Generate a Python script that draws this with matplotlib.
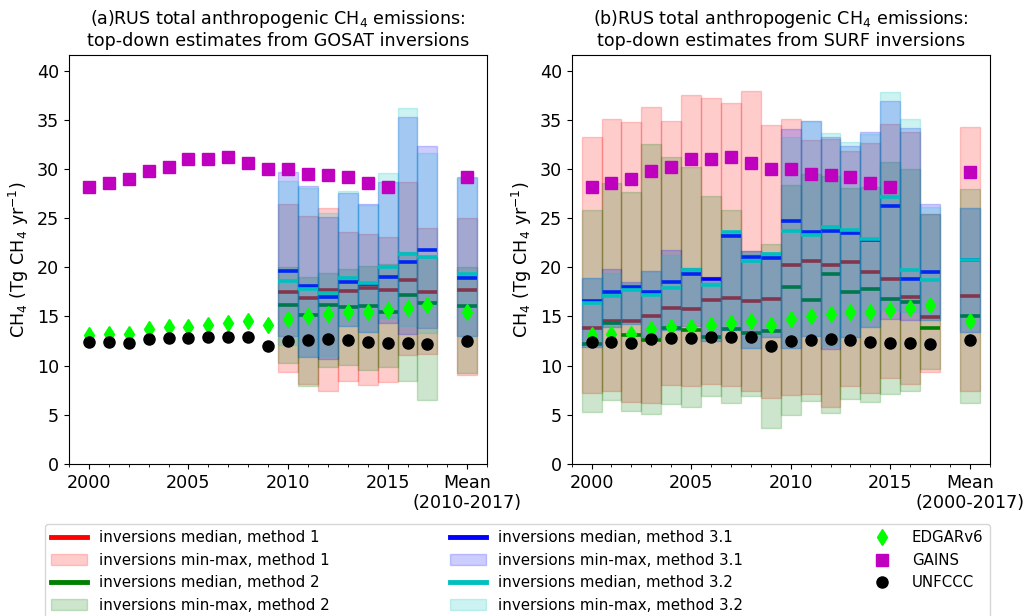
import numpy as np
import matplotlib
matplotlib.use('Agg')
from matplotlib import pyplot as plt
from matplotlib.lines import Line2D
from matplotlib.patches import Patch
from matplotlib.ticker import MultipleLocator

# anios de cada panel
anios_surf = list(range(2000, 2018))
anios_gosat = list(range(2010, 2018))
anios_gains = list(range(2000, 2016))
pos_media = 2019

# inventarios (2000-2017), ultimo valor = media de cada panel
edgar = [13.1, 13.2, 13.2, 13.7, 13.9, 13.9, 14.1, 14.3, 14.5, 14.1,
         14.7, 15.0, 15.2, 15.4, 15.4, 15.6, 15.8, 16.2]
gains = [28.2, 28.6, 29.0, 29.8, 30.2, 31.0, 31.0, 31.2, 30.6, 30.0,
         30.0, 29.5, 29.4, 29.2, 28.6, 28.2]
unfccc = [12.4, 12.4, 12.3, 12.7, 12.8, 12.8, 12.9, 12.9, 12.9, 12.0,
          12.5, 12.6, 12.7, 12.6, 12.4, 12.3, 12.3, 12.2]
edgar_media_gosat, edgar_media_surf = 15.4, 14.5
gains_media_gosat, gains_media_surf = 29.15, 29.65
unfccc_media_gosat, unfccc_media_surf = 12.45, 12.6

# GOSAT 2010-2017 + media (2010-2017)
g_m1_max = [26.4, 25.2, 26.0, 23.6, 23.4, 23.1, 28.7, 24.0, 25.0]
g_m1_min = [9.3, 8.1, 7.4, 8.4, 8.0, 8.3, 11.1, 11.2, 9.0]
g_m1_med = [17.5, 16.9, 17.7, 17.6, 17.9, 17.7, 18.7, 17.5, 17.7]
g_m2_max = [20.0, 19.0, 19.4, 19.8, 20.1, 20.3, 21.5, 21.0, 20.0]
g_m2_min = [10.3, 7.95, 9.9, 10.1, 9.5, 9.9, 8.4, 6.5, 9.2]
g_m2_med = [16.2, 15.1, 16.2, 16.0, 16.1, 15.4, 17.2, 16.4, 16.1]
g_m31_max = [29.7, 28.3, 25.1, 27.5, 26.4, 28.7, 35.3, 32.3, 29.2]
g_m31_min = [13.0, 10.9, 10.7, 14.0, 13.4, 14.3, 13.2, 13.8, 13.0]
g_m31_med = [19.6, 18.1, 17.0, 18.5, 18.3, 19.0, 20.5, 21.7, 18.9]
g_m32_max = [28.8, 28.1, 25.5, 27.7, 26.3, 29.6, 36.2, 31.6, 29.1]
g_m32_min = [12.1, 11.0, 11.0, 14.0, 13.4, 14.8, 14.0, 13.3, 13.0]
g_m32_med = [18.6, 17.8, 17.4, 18.9, 18.4, 20.0, 21.3, 21.0, 19.3]

# SURF 2000-2017 + media (2000-2017)
s_m1_max = [33.2, 35.1, 34.8, 36.3, 34.9, 37.5, 37.2, 36.7, 37.9, 34.5,
            35.1, 32.9, 33.0, 31.8, 32.6, 34.6, 33.7, 25.4, 34.3]
s_m1_min = [7.2, 7.4, 6.3, 6.2, 8.0, 7.9, 8.1, 7.9, 7.4, 6.7,
            7.0, 7.1, 5.8, 7.9, 7.2, 8.7, 8.1, 9.3, 7.4]
s_m1_med = [13.8, 14.5, 14.5, 15.0, 15.9, 15.7, 16.7, 16.9, 16.6, 16.8,
            20.2, 20.6, 20.2, 20.5, 19.5, 18.8, 17.0, 14.9, 17.1]
s_m2_max = [25.8, 28.6, 27.6, 32.5, 31.2, 30.2, 27.2, 25.8, 21.6, 22.4,
            28.4, 29.5, 29.3, 28.1, 28.2, 30.7, 30.0, 25.4, 28.0]
s_m2_min = [5.3, 6.5, 5.4, 5.1, 6.1, 5.8, 6.9, 6.2, 6.9, 3.6,
            5.0, 6.4, 5.2, 6.6, 6.3, 7.1, 7.4, 9.6, 6.2]
s_m2_med = [12.2, 14.3, 13.1, 12.6, 13.8, 13.6, 12.9, 13.7, 13.3, 13.5,
            18.0, 16.7, 19.3, 17.5, 17.8, 16.8, 16.5, 13.8, 15.0]
s_m31_max = [18.9, 19.8, 18.5, 19.6, 21.7, 19.9, 19.0, 23.4, 21.6, 21.4,
             34.1, 34.9, 33.2, 32.3, 33.7, 36.9, 34.2, 26.4, 26.0]
s_m31_min = [11.9, 13.9, 14.2, 12.9, 13.6, 14.0, 12.5, 13.6, 11.8, 12.9,
             11.8, 13.0, 11.7, 12.9, 13.9, 14.7, 14.6, 14.6, 13.4]
s_m31_med = [16.6, 17.5, 18.0, 17.5, 18.5, 19.3, 18.8, 23.2, 21.0, 20.9,
             24.7, 23.6, 23.7, 23.5, 22.8, 26.2, 18.8, 19.5, 20.7]
s_m32_max = [18.9, 19.4, 18.4, 19.6, 21.2, 19.9, 18.5, 23.7, 21.3, 21.4,
             33.2, 34.9, 33.6, 32.7, 33.5, 37.8, 35.1, 26.1, 26.0]
s_m32_min = [11.9, 13.9, 14.2, 12.9, 13.6, 14.3, 12.5, 13.6, 11.8, 12.9,
             11.8, 13.0, 12.0, 12.9, 13.9, 15.6, 15.4, 14.6, 13.4]
s_m32_med = [16.4, 17.1, 17.7, 17.2, 17.9, 19.7, 18.2, 23.6, 20.6, 21.3,
             23.7, 23.3, 24.1, 23.8, 22.9, 27.1, 19.7, 18.7, 20.7]

colores = ['r', 'g', 'b', 'c']
metodos = ['1', '2', '3.1', '3.2']
fs = 12.6
ms_d, ms_s, ms_o = 8.3, 8, 8


def dibujarMetodo(ax, x, vmin, vmax, med, color):
  # mediana primero, luego la banda min-max encima
  x = np.array(x, dtype=float)
  vmin = np.array(vmin)
  vmax = np.array(vmax)
  ax.hlines(med, x - 0.5, x + 0.5, colors=color, lw=2.6, zorder=2)
  ax.bar(x, vmax - vmin, bottom=vmin, width=1.0, color=color, alpha=0.2,
         edgecolor=color, linewidth=1, zorder=2)


def dibujarPanel(ax, x, datos, medias, titulo, etiqueta_media):
  for (vmin, vmax, med), c in zip(datos, colores):
    dibujarMetodo(ax, x, vmin, vmax, med, c)
  x_inv = anios_surf + [pos_media]
  ax.plot(x_inv, edgar + [medias[0]], 'd', color='lime', ms=ms_d, zorder=5)
  ax.plot(anios_gains + [pos_media], gains + [medias[1]], 's', color='m', ms=ms_s, zorder=5)
  ax.plot(x_inv, unfccc + [medias[2]], 'o', color='k', ms=ms_o, zorder=5)
  ax.set_title(titulo, fontsize=fs)
  ax.set_ylabel('CH$_4$ (Tg CH$_4$ yr$^{-1}$)', fontsize=fs)
  ax.set_xlim(1999, 2020)
  ax.set_ylim(0, 41.6)
  ax.set_yticks(range(0, 41, 5))
  ax.set_xticks([2000, 2005, 2010, 2015, pos_media])
  ax.set_xticklabels(['2000', '2005', '2010', '2015', etiqueta_media])
  ax.xaxis.set_minor_locator(MultipleLocator(1))
  ax.tick_params(labelsize=fs)


fig = plt.figure(figsize=(10.3, 6.16), dpi=100)
ax1 = fig.add_axes([0.067, 0.247, 0.406, 0.664])
ax2 = fig.add_axes([0.555, 0.247, 0.406, 0.664])

datos_gosat = [(g_m1_min, g_m1_max, g_m1_med), (g_m2_min, g_m2_max, g_m2_med),
               (g_m31_min, g_m31_max, g_m31_med), (g_m32_min, g_m32_max, g_m32_med)]
datos_surf = [(s_m1_min, s_m1_max, s_m1_med), (s_m2_min, s_m2_max, s_m2_med),
              (s_m31_min, s_m31_max, s_m31_med), (s_m32_min, s_m32_max, s_m32_med)]

dibujarPanel(ax1, anios_gosat + [pos_media], datos_gosat,
             (edgar_media_gosat, gains_media_gosat, unfccc_media_gosat),
             '(a)RUS total anthropogenic CH$_4$ emissions:\ntop-down estimates from GOSAT inversions',
             'Mean\n(2010-2017)')
dibujarPanel(ax2, anios_surf + [pos_media], datos_surf,
             (edgar_media_surf, gains_media_surf, unfccc_media_surf),
             '(b)RUS total anthropogenic CH$_4$ emissions:\ntop-down estimates from SURF inversions',
             'Mean\n(2000-2017)')

# leyenda comun debajo de los dos paneles
handles, labels = [], []
for c, m in zip(colores, metodos):
  handles.append(Line2D([0], [0], color=c, lw=3.5))
  labels.append('inversions median, method ' + m)
  handles.append(Patch(facecolor=c, edgecolor=c, alpha=0.2))
  labels.append('inversions min-max, method ' + m)
handles += [Line2D([0], [0], marker='d', color='lime', ls='none', ms=ms_d),
            Line2D([0], [0], marker='s', color='m', ls='none', ms=ms_s),
            Line2D([0], [0], marker='o', color='k', ls='none', ms=ms_o)]
labels += ['EDGARv6', 'GAINS', 'UNFCCC']

fig.legend(handles, labels, loc='upper left', bbox_to_anchor=(0.036, 0.161, 0.932, 0.0),
           mode='expand', ncol=3, fontsize=10.8, handlelength=2.4, numpoints=1)

fig.savefig('out.png', dpi=100)
